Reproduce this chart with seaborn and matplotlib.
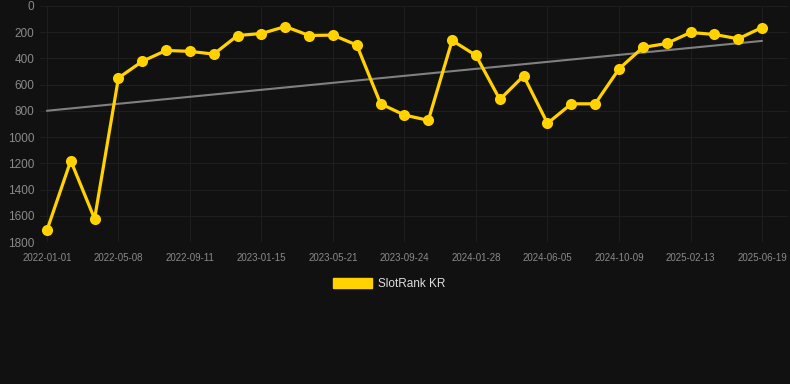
import numpy as np
import pandas as pd
import seaborn as sns
import matplotlib.pyplot as plt
from matplotlib.patches import Patch

# Rank values (lower = better)
ranks = [1711, 1180, 1623, 549, 422, 339, 346, 367, 225, 210,
         157, 225, 222, 298, 746, 832, 872, 263, 377, 713,
         533, 895, 746, 746, 480, 316, 286, 202, 217, 250, 164]
tick_labels = ['2022-01-01', '2022-05-08', '2022-09-11', '2023-01-15',
               '2023-05-21', '2023-09-24', '2024-01-28', '2024-06-05',
               '2024-10-09', '2025-02-13', '2025-06-19']
y_ticks = [0, 200, 400, 600, 800, 1000, 1200, 1400, 1600, 1800]

df = pd.DataFrame({'idx': np.arange(len(ranks)), 'rank': ranks})

# linear trend over the series
coef = np.polyfit(df['idx'], df['rank'], 1)
df['trend'] = np.polyval(coef, df['idx'])

bg = '#111111'
sns.set_style('dark')
plt.rcParams['font.family'] = ['Liberation Sans', 'DejaVu Sans']

fig = plt.figure(figsize=(7.9, 3.84), dpi=100, facecolor=bg)
ax = fig.add_axes([40 / 790, 1 - 242 / 384, 748 / 790, 236 / 384])
ax.set_facecolor(bg)

sns.lineplot(data=df, x='idx', y='trend', ax=ax, color='#808080', linewidth=1.5)
sns.lineplot(data=df, x='idx', y='rank', ax=ax, color='#FFD200', linewidth=2.3,
             marker='o', markersize=8, markeredgewidth=0)

ax.set_xlim(-0.29, 31.09)
ax.set_ylim(1800, 0)
ax.set_yticks(y_ticks)
ax.set_yticklabels([str(t) for t in y_ticks])
ax.set_xticks(np.arange(0, len(ranks), 3))
ax.set_xticklabels(tick_labels)
ax.tick_params(axis='y', colors='#8a8a8a', labelsize=8.5, length=0, pad=4)
ax.tick_params(axis='x', colors='#8a8a8a', labelsize=7, length=0, pad=8)
ax.grid(True, color='#1e1e1e', linewidth=0.8)
ax.set_xlabel('')
ax.set_ylabel('')
for s in ax.spines.values():
    s.set_visible(False)

fig.legend(handles=[Patch(color='#FFD200', label='SlotRank KR')],
           loc='center', bbox_to_anchor=(389 / 790, 1 - 284 / 384),
           frameon=False, fontsize=8.5, labelcolor='#dddddd',
           handlelength=3.3, handleheight=0.9, handletextpad=0.5)

fig.savefig('out.png', dpi=100, facecolor=bg)
